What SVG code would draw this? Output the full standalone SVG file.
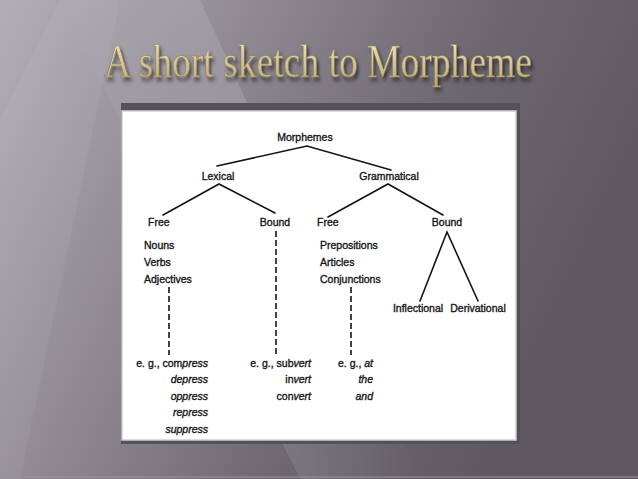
<svg xmlns="http://www.w3.org/2000/svg" width="638" height="479" viewBox="0 0 638 479">
<defs>
<linearGradient id="bg" x1="0" y1="0" x2="1" y2="0.35">
<stop offset="0" stop-color="#b3afb8"/>
<stop offset="0.35" stop-color="#8f8a94"/>
<stop offset="0.7" stop-color="#6c6770"/>
<stop offset="1" stop-color="#5d5861"/>
</linearGradient>
<linearGradient id="beam" x1="0" y1="0" x2="1" y2="0">
<stop offset="0" stop-color="#ffffff" stop-opacity="0"/>
<stop offset="0.5" stop-color="#ffffff" stop-opacity="0.14"/>
<stop offset="1" stop-color="#ffffff" stop-opacity="0"/>
</linearGradient>
<linearGradient id="gold" x1="0" y1="0" x2="0" y2="1">
<stop offset="0" stop-color="#f3e9c4"/>
<stop offset="1" stop-color="#bba66c"/>
</linearGradient>
<filter id="shadow" x="-10%" y="-30%" width="120%" height="160%">
<feDropShadow dx="2" dy="3" stdDeviation="1.8" flood-color="#000" flood-opacity="0.55"/>
</filter>
<style>
.t{font-family:"Liberation Sans",Arial,sans-serif;font-size:10.5px;fill:#161616;stroke:#161616;stroke-width:0.35}
.i{font-style:italic}
.e{text-anchor:end}
.m{text-anchor:middle}
.ln{stroke:#141414;stroke-width:1.6;fill:none;stroke-linecap:round}
.ds{stroke:#141414;stroke-width:1.6;fill:none;stroke-dasharray:6 3}
</style>
</defs>
<rect width="638" height="479" fill="url(#bg)"/>
<polygon points="60,0 200,0 420,479 300,479" fill="url(#beam)"/>
<polygon points="0,120 60,0 120,0 20,479 0,479" fill="#ffffff" fill-opacity="0.05"/>
<line x1="0" y1="477" x2="638" y2="477" stroke="#9a959e" stroke-width="1"/>
<text transform="translate(318,77) scale(1,1.15)" x="0" y="0" text-anchor="middle" font-family="Liberation Serif,serif" font-size="40" textLength="428" lengthAdjust="spacingAndGlyphs" fill="url(#gold)" stroke="#8c7c4e" stroke-width="0.5" filter="url(#shadow)">A short sketch to Morpheme</text>
<rect x="121" y="103" width="399" height="341" fill="#55515a"/>
<rect x="122" y="111" width="394" height="329" fill="#ffffff" stroke="#cfcfd2" stroke-width="1.5"/>
<g id="connectors">
<polyline class="ln" points="217,166 307,146 391,170"/>
<polyline class="ln" points="163,215 219,184 275,213"/>
<polyline class="ln" points="328,217 388,184 443,215"/>
<polyline class="ln" points="420,301 447,232 478,301"/>
<line class="ds" x1="276" y1="231" x2="276" y2="355"/>
<line class="ds" x1="169" y1="287" x2="169" y2="355"/>
<line class="ds" x1="351" y1="287" x2="351" y2="355"/>
</g>
<g id="morphemes"><text class="t m" x="305" y="141">Morphemes</text></g>
<g id="lexical"><text class="t m" x="218" y="180">Lexical</text></g>
<g id="grammatical"><text class="t m" x="389" y="180">Grammatical</text></g>
<g id="lex-free"><text class="t" x="148" y="226">Free</text>
<text class="t" x="144" y="249">Nouns</text>
<text class="t" x="144" y="266">Verbs</text>
<text class="t" x="144" y="283">Adjectives</text></g>
<g id="lex-bound"><text class="t m" x="275" y="226">Bound</text></g>
<g id="gram-free"><text class="t" x="317" y="226">Free</text>
<text class="t" x="320" y="249">Prepositions</text>
<text class="t" x="320" y="266">Articles</text>
<text class="t" x="320" y="283">Conjunctions</text></g>
<g id="gram-bound"><text class="t m" x="447" y="226">Bound</text></g>
<g id="inflectional"><text class="t m" x="418" y="312">Inflectional</text></g>
<g id="derivational"><text class="t m" x="478" y="312">Derivational</text></g>
<g id="ex-free-lex">
<text class="t e" x="208" y="367">e. g., com<tspan class="i">press</tspan></text>
<text class="t e i" x="208" y="383">depress</text>
<text class="t e i" x="208" y="400">oppress</text>
<text class="t e i" x="208" y="416">repress</text>
<text class="t e i" x="208" y="433">suppress</text>
</g>
<g id="ex-bound-lex">
<text class="t e" x="311" y="367">e. g., sub<tspan class="i">vert</tspan></text>
<text class="t e" x="311" y="383">in<tspan class="i">vert</tspan></text>
<text class="t e" x="311" y="400">con<tspan class="i">vert</tspan></text>
</g>
<g id="ex-free-gram">
<text class="t e" x="373" y="367">e. g., <tspan class="i">at</tspan></text>
<text class="t e i" x="373" y="383">the</text>
<text class="t e i" x="373" y="400">and</text>
</g>
</svg>
